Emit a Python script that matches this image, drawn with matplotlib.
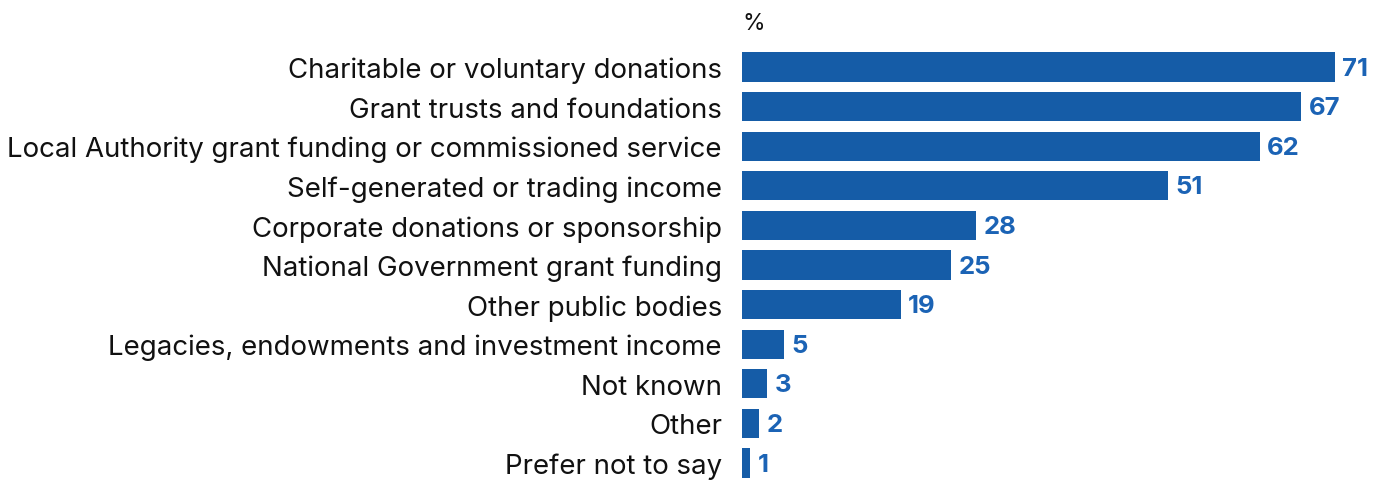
import matplotlib
matplotlib.use("Agg")
import matplotlib.pyplot as plt

categories = [
    "Charitable or voluntary donations",
    "Grant trusts and foundations",
    "Local Authority grant funding or commissioned service",
    "Self-generated or trading income",
    "Corporate donations or sponsorship",
    "National Government grant funding",
    "Other public bodies",
    "Legacies, endowments and investment income",
    "Not known",
    "Other",
    "Prefer not to say",
]
values = [71, 67, 62, 51, 28, 25, 19, 5, 3, 2, 1]

BAR_COLOR = "#155ca7"
LABEL_COLOR = "#1b63b5"

W, H = 1385, 481
fig = plt.figure(figsize=(W / 100, H / 100), dpi=100)
plt.rcParams["font.family"] = ["Inter", "DejaVu Sans"]

left = 742 / W
top_px, bot_px = 20, 481
ax = fig.add_axes([left, 1 - bot_px / H, 1 - left, (bot_px - top_px) / H])

y = list(range(len(categories)))
ax.barh(y, values, height=0.74, color=BAR_COLOR)

for yi, v in zip(y, values):
    ax.text(v + 0.9, yi + 0.03, str(v), va="center", ha="left",
            fontsize=18.5, fontweight="bold", color=LABEL_COLOR)

ax.set_xlim(0, 77)
# row centers from 68 px to 464 px
y0, step = 68, 39.6
ax.set_ylim((bot_px - y0) / step, (top_px - y0) / step)
ax.set_yticks(y)
ax.set_yticklabels(categories, fontsize=19.9, color="#111111")
ax.tick_params(axis="y", length=0, pad=14.4)
ax.set_xticks([])
for s in ax.spines.values():
    s.set_visible(False)

fig.text(left, 1 - 24 / H, "%", ha="left", va="center", fontsize=16.5, color="#111111")

fig.savefig("out.png", dpi=100)
